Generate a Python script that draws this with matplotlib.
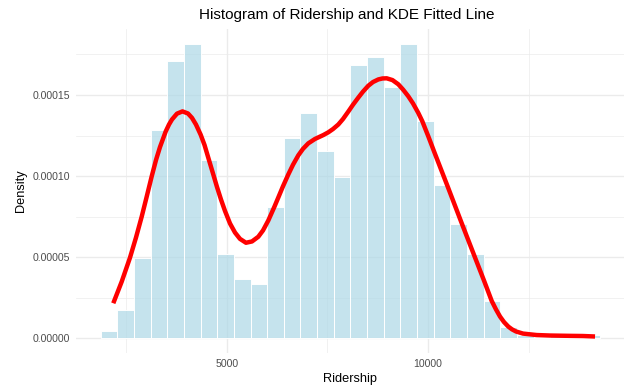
import numpy as np
import matplotlib
matplotlib.use("Agg")
import matplotlib.pyplot as plt
from matplotlib.ticker import MultipleLocator, FuncFormatter

# ---------------- data ----------------
bin_start = 1870.0
bin_width = 413.6
hist_density = [
    0.47e-5, 1.77e-5, 4.93e-5, 12.87e-5, 17.10e-5, 18.15e-5, 11.01e-5, 5.20e-5,
    3.64e-5, 3.37e-5, 8.12e-5, 12.33e-5, 13.91e-5, 11.53e-5, 9.95e-5, 16.83e-5,
    17.34e-5, 15.49e-5, 18.15e-5, 13.40e-5, 9.43e-5, 7.07e-5, 5.20e-5, 2.30e-5,
    0.72e-5, 0.21e-5, 0.0, 0.21e-5, 0.21e-5, 0.21e-5,
]

kde_x = [
    2183, 2392, 2598, 2747, 2889, 3008, 3137, 3244, 3343, 3485, 3567, 3641,
    3765, 3902, 4039, 4138, 4237, 4354, 4449, 4560, 4660, 4759, 4858, 4958,
    5082, 5206, 5330, 5479, 5628, 5785, 5902, 6033, 6187, 6282, 6398, 6530,
    6647, 6779, 6895, 7027, 7193, 7400, 7524, 7640, 7772, 7889, 8021, 8137,
    8269, 8386, 8517, 8634, 8766, 8870, 8974, 9118, 9263, 9379, 9511, 9628,
    9760, 9859, 10008, 10174, 10490, 10832, 11143, 11391, 11583, 11689, 11789,
    11888, 11995, 12087, 12186, 12360, 12700, 13031, 13528, 13851, 14149,
]
kde_y_e5 = [
    2.16, 3.49, 4.97, 6.21, 7.50, 8.68, 9.98, 10.99, 11.79, 12.75, 13.18, 13.49,
    13.85, 13.99, 13.86, 13.59, 13.18, 12.55, 11.92, 10.99, 10.16, 9.33, 8.56, 7.85,
    7.08, 6.52, 6.13, 5.89, 5.97, 6.26, 6.65, 7.26, 8.12, 8.68, 9.37, 10.10,
    10.70, 11.28, 11.68, 12.02, 12.29, 12.53, 12.70, 12.90, 13.18, 13.52, 13.98, 14.40,
    14.84, 15.21, 15.57, 15.80, 15.96, 16.02, 16.03, 15.92, 15.66, 15.34, 14.92, 14.48,
    13.89, 13.38, 12.45, 11.37, 9.35, 7.13, 5.14, 3.56, 2.30, 1.78, 1.34,
    1.00, 0.72, 0.55, 0.42, 0.29, 0.20, 0.17, 0.15, 0.14, 0.11,
]
kde_y = [v * 1e-5 for v in kde_y_e5]

title = "Histogram of Ridership and KDE Fitted Line"
xlabel = "Ridership"
ylabel = "Density"

# ---------------- plot ----------------
plt.rcParams["font.family"] = ["Liberation Sans", "DejaVu Sans"]

W, H = 624, 388
fig = plt.figure(figsize=(W / 100, H / 100), dpi=100)

n_bins = len(hist_density)
edges = bin_start + bin_width * np.arange(n_bins + 1)
centers = (edges[:-1] + edges[1:]) / 2

span = edges[-1] - edges[0]
xlim = (edges[0] - 0.05 * span, edges[-1] + 0.05 * span)
ymax = max(hist_density)
ylim = (-0.05 * ymax, ymax * 1.05)

# panel position in pixels
left_px, right_px = 75.7, 625.2
top_px, bottom_px = 29.2, 353.0
ax = fig.add_axes([left_px / W, 1 - bottom_px / H,
                   (right_px - left_px) / W, (bottom_px - top_px) / H])

ax.set_xlim(*xlim)
ax.set_ylim(*ylim)

for s in ax.spines.values():
    s.set_visible(False)

ax.xaxis.set_major_locator(MultipleLocator(5000))
ax.xaxis.set_minor_locator(MultipleLocator(2500))
ax.yaxis.set_major_locator(MultipleLocator(5e-5))
ax.yaxis.set_minor_locator(MultipleLocator(2.5e-5))
ax.yaxis.set_major_formatter(FuncFormatter(lambda v, p: f"{v:.5f}"))
ax.xaxis.set_major_formatter(FuncFormatter(lambda v, p: f"{v:.0f}"))

ax.grid(which="major", color="#EBEBEB", linewidth=1.0)
ax.grid(which="minor", color="#EBEBEB", linewidth=0.5)
ax.set_axisbelow(True)
ax.tick_params(which="both", length=0)
ax.tick_params(axis="both", which="major", labelsize=7.6, labelcolor="#4D4D4D")
ax.tick_params(axis="y", pad=4)
ax.tick_params(axis="x", pad=4)

ax.bar(centers, hist_density, width=bin_width, align="center",
       color="lightblue", alpha=0.7, edgecolor="white", linewidth=0.6,
       zorder=2)
# bar outlines drawn opaque white like ggplot
ax.bar(centers, hist_density, width=bin_width, align="center",
       facecolor="none", edgecolor="white", linewidth=0.6, zorder=2.1)

ax.plot(kde_x, kde_y, color="red", linewidth=3.2, solid_capstyle="butt",
        solid_joinstyle="round", zorder=3)

ax.set_xlabel(xlabel, fontsize=9.2, color="black", labelpad=3)
ax.set_ylabel(ylabel, fontsize=9.2, color="black", labelpad=4)

fig.text((left_px + 618) / 2 / W, 1 - 15.5 / H, title, ha="center",
         va="center", fontsize=11, color="black")

fig.savefig("out.png", dpi=100)
